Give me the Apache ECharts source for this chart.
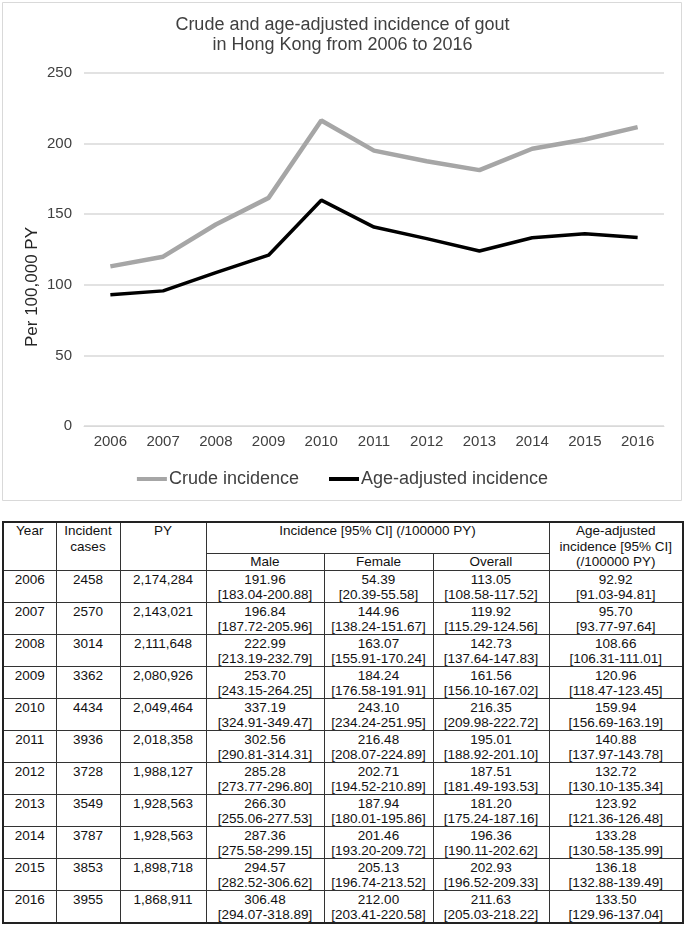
<!DOCTYPE html>
<html>
<head>
<meta charset="utf-8">
<script src="https://cdn.jsdelivr.net/npm/echarts@6/dist/echarts.min.js"></script>
<style>
  html, body { margin: 0; padding: 0; background: #fff; }
  body { width: 685px; height: 927px; position: relative; overflow: hidden; font-family: "Liberation Sans", Arial, sans-serif; }
  #chart { position: absolute; left: 0; top: 0; width: 685px; height: 505px; }
  #tbl { position: absolute; left: 2px; top: 521px; width: 680px; border-collapse: collapse; table-layout: fixed; font-size: 13.5px; color: #111; border: 2px solid #222; }
  #tbl td { border: 1px solid #333; padding: 0; text-align: center; vertical-align: top; overflow: hidden; white-space: nowrap; box-sizing: border-box; }
  #tbl tr.h1 td { height: 31px; line-height: 15.5px; }
  #tbl tr.h2 td { height: 16px; line-height: 15px; }
  #tbl tr.d td { height: 32px; line-height: 15px; padding-top: 1px; }
</style>
</head>
<body>
<div id="chart"></div>
<table id="tbl"></table>
<script>
const years = ['2006','2007','2008','2009','2010','2011','2012','2013','2014','2015','2016'];
const incidentCases = ['2458','2570','3014','3362','4434','3936','3728','3549','3787','3853','3955'];
const personYears = ['2,174,284','2,143,021','2,111,648','2,080,926','2,049,464','2,018,358','1,988,127','1,928,563','1,928,563','1,898,718','1,868,911'];
const maleInc = ['191.96','196.84','222.99','253.70','337.19','302.56','285.28','266.30','287.36','294.57','306.48'];
const maleCI = ['183.04-200.88','187.72-205.96','213.19-232.79','243.15-264.25','324.91-349.47','290.81-314.31','273.77-296.80','255.06-277.53','275.58-299.15','282.52-306.62','294.07-318.89'];
const femaleInc = ['54.39','144.96','163.07','184.24','243.10','216.48','202.71','187.94','201.46','205.13','212.00'];
const femaleCI = ['20.39-55.58','138.24-151.67','155.91-170.24','176.58-191.91','234.24-251.95','208.07-224.89','194.52-210.89','180.01-195.86','193.20-209.72','196.74-213.52','203.41-220.58'];
const overallInc = [113.05,119.92,142.73,161.56,216.35,195.01,187.51,181.20,196.36,202.93,211.63];
const overallCI = ['108.58-117.52','115.29-124.56','137.64-147.83','156.10-167.02','209.98-222.72','188.92-201.10','181.49-193.53','175.24-187.16','190.11-202.62','196.52-209.33','205.03-218.22'];
const adjustedInc = [92.92,95.70,108.66,120.96,159.94,140.88,132.72,123.92,133.28,136.18,133.50];
const adjustedCI = ['91.03-94.81','93.77-97.64','106.31-111.01','118.47-123.45','156.69-163.19','137.97-143.78','130.10-135.34','121.36-126.48','130.58-135.99','132.88-139.49','129.96-137.04'];
const yTicks = [0, 50, 100, 150, 200, 250];

const FONT = '"Liberation Sans", Arial, sans-serif';
const chart = echarts.init(document.getElementById('chart'), null, { renderer: 'canvas' });
chart.setOption({
  animation: false,
  backgroundColor: '#fff',
  textStyle: { fontFamily: FONT },
  title: {
    text: 'Crude and age-adjusted incidence of gout\nin Hong Kong from 2006 to 2016',
    left: 'center', top: 10,
    textStyle: { fontSize: 18, fontWeight: 'normal', color: '#404040', lineHeight: 20, fontFamily: FONT }
  },
  graphic: [
    { type: 'rect', shape: { x: 2.5, y: 2.5, width: 679, height: 498 }, style: { fill: 'none', stroke: '#d9d9d9', lineWidth: 1 }, z: -1 },
    { type: 'text', x: 32, y: 287, rotation: Math.PI / 2,
      style: { text: 'Per 100,000 PY', fontSize: 17, fill: '#262626', fontFamily: FONT, textAlign: 'center', textVerticalAlign: 'middle' } }
  ],
  legend: {
    top: 465, left: 'center', itemWidth: 30, itemHeight: 4, itemGap: 30,
    textStyle: { fontSize: 18, color: '#404040', fontFamily: FONT, padding: [0, 0, 0, -3] },
    data: [{ name: 'Crude incidence', icon: 'rect' }, { name: 'Age-adjusted incidence', icon: 'rect' }]
  },
  grid: { left: 84, top: 73, width: 580, height: 353, containLabel: false },
  xAxis: {
    type: 'category', data: years, boundaryGap: true,
    axisLine: { show: true, lineStyle: { color: '#d9d9d9', width: 1 } },
    axisTick: { show: false },
    axisLabel: { fontSize: 15, color: '#404040', margin: 8, fontFamily: FONT }
  },
  yAxis: {
    type: 'value', min: yTicks[0], max: yTicks[yTicks.length - 1], interval: 50,
    axisLine: { show: false }, axisTick: { show: false },
    axisLabel: { fontSize: 15, color: '#404040', margin: 12, fontFamily: FONT },
    splitLine: { lineStyle: { color: '#d9d9d9', width: 1.5 } }
  },
  series: [
    { name: 'Crude incidence', type: 'line', data: overallInc, symbol: 'none', color: '#a6a6a6', lineStyle: { width: 4.5, color: '#a6a6a6' } },
    { name: 'Age-adjusted incidence', type: 'line', data: adjustedInc, symbol: 'none', color: '#000', lineStyle: { width: 3.5, color: '#000' } }
  ]
});

// Table
const colWidths = [53, 64, 86, 118, 109, 116, 134];
let html = '<colgroup>' + colWidths.map(w => '<col style="width:' + w + 'px">').join('') + '</colgroup>';
html += '<tr class="h1"><td rowspan="2">Year</td><td rowspan="2">Incident<br>cases</td><td rowspan="2">PY</td>' +
        '<td colspan="3">Incidence [95% CI] (/100000 PY)</td>' +
        '<td rowspan="2">Age-adjusted<br>incidence [95% CI]<br>(/100000 PY)</td></tr>';
html += '<tr class="h2"><td>Male</td><td>Female</td><td>Overall</td></tr>';
for (let i = 0; i < years.length; i++) {
  html += '<tr class="d"><td>' + years[i] + '</td><td>' + incidentCases[i] + '</td><td>' + personYears[i] + '</td>' +
    '<td>' + maleInc[i] + '<br>[' + maleCI[i] + ']</td>' +
    '<td>' + femaleInc[i] + '<br>[' + femaleCI[i] + ']</td>' +
    '<td>' + overallInc[i].toFixed(2) + '<br>[' + overallCI[i] + ']</td>' +
    '<td>' + adjustedInc[i].toFixed(2) + '<br>[' + adjustedCI[i] + ']</td></tr>';
}
document.getElementById('tbl').innerHTML = html;
</script>
</body>
</html>
